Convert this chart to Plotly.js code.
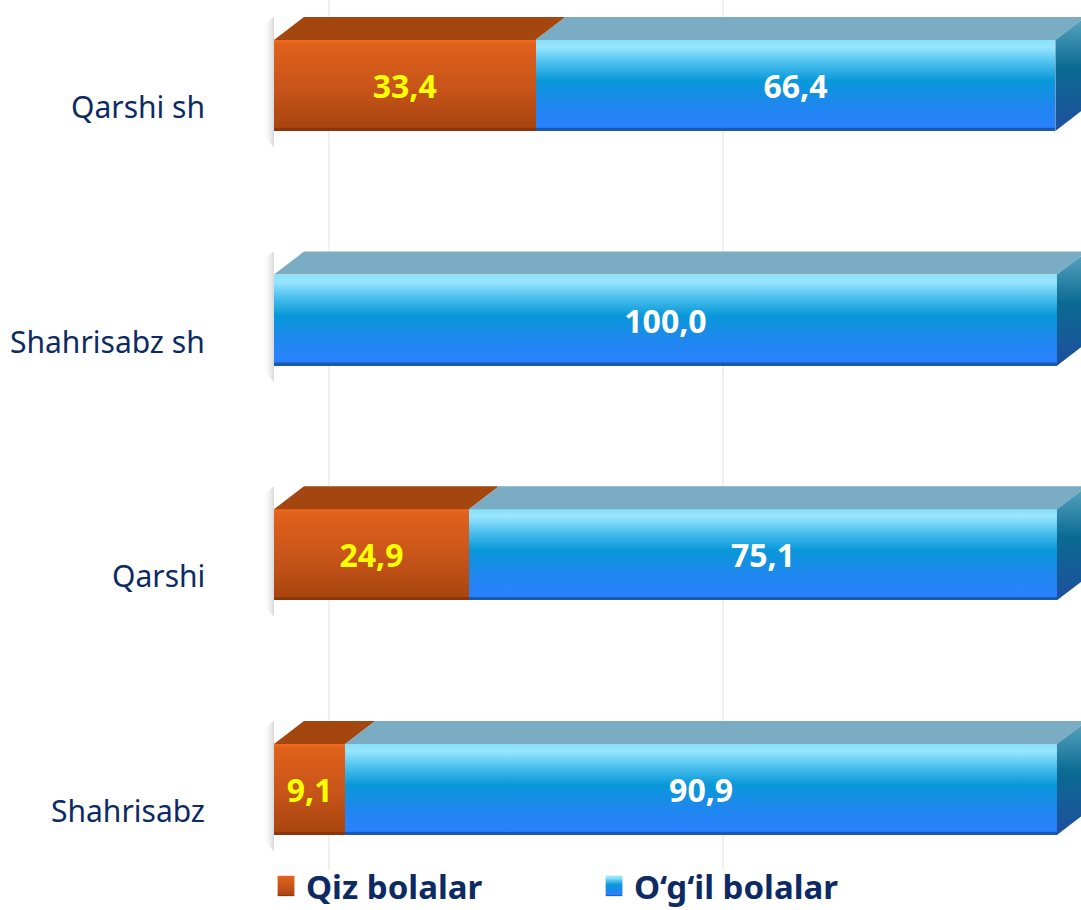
<!DOCTYPE html>
<html>
<head>
<meta charset="utf-8">
<script src="https://cdn.plot.ly/plotly-3.0.1.min.js"></script>
<style>html,body{margin:0;padding:0;background:#fff;}#chart{width:1081px;height:910px;}</style>
</head>
<body>
<div id="chart"></div>
<script>
// ---- data ----
const categories = ["Qarshi sh", "Shahrisabz sh", "Qarshi", "Shahrisabz"];
const seriesNames = ["Qiz bolalar", "O‘g‘il bolalar"];
const qizValues = [33.4, 0, 24.9, 9.1];
const ogilValues = [66.4, 100.0, 75.1, 90.9];

// ---- style ----
const navy = "#0c2a63";
const fontFam = "Noto Sans, Open Sans, DejaVu Sans, sans-serif";
const barW = 0.388;      // bar thickness (category units)
const depthX = 3.83;     // 3D depth in value units
const depthY = 0.098;    // 3D depth in category units

const yIdx = categories.map((c, i) => i);
const fmt = v => v > 0 ? v.toFixed(1).replace('.', ',') : '';

function topFaces(starts, ends) {
  const xs = [], ys = [];
  starts.forEach((s, i) => {
    const e = ends[i];
    if (e - s <= 0) return;
    const yf = yIdx[i] - barW / 2, yb = yf - depthY;
    xs.push(s, e, e + depthX, s + depthX, s, null);
    ys.push(yf, yf, yb, yb, yf, null);
  });
  return {xs, ys};
}
function sideFace(e, i) {
  const yt = yIdx[i] - barW / 2, ybt = yIdx[i] + barW / 2;
  return {xs: [e, e + depthX, e + depthX, e, e], ys: [yt, yt - depthY, ybt - depthY, ybt, yt]};
}
function shadow(i) {
  const yt = i - barW / 2 - depthY, yb = i + barW / 2 + 0.07;
  return {xs: [-1.5, 0, 0, -1.5, -1.5], ys: [yt + 0.04, yt, yb, yb - 0.06, yt + 0.04]};
}

const ogStart = qizValues.slice();
const ogEnd = qizValues.map((q, i) => q + ogilValues[i]);
const tQ = topFaces(qizValues.map(() => 0), qizValues);
const tO = topFaces(ogStart, ogEnd);

const noLine = {width: 0, color: 'rgba(0,0,0,0)'};
const traces = [
  {type: 'bar', orientation: 'h', name: seriesNames[0], y: yIdx, x: qizValues,
   width: barW, marker: {color: '#c9551a', line: {width: 0}},
   text: qizValues.map(fmt), textposition: 'inside', insidetextanchor: 'middle',
   constraintext: 'none', textangle: 0,
   textfont: {color: '#ffff00', size: 32, family: fontFam, weight: 'bold'},
   hoverinfo: 'skip'},
  {type: 'bar', orientation: 'h', name: seriesNames[1], y: yIdx, x: ogilValues,
   width: barW, marker: {color: '#1890e8', line: {width: 0}},
   text: ogilValues.map(fmt), textposition: 'inside', insidetextanchor: 'middle',
   constraintext: 'none', textangle: 0,
   textfont: {color: '#ffffff', size: 32, family: fontFam, weight: 'bold'},
   hoverinfo: 'skip'},
  {type: 'scatter', mode: 'lines', x: tQ.xs, y: tQ.ys, fill: 'toself', fillcolor: '#a3460f',
   line: noLine, showlegend: false, hoverinfo: 'skip'},
  {type: 'scatter', mode: 'lines', x: tO.xs, y: tO.ys, fill: 'toself', fillcolor: '#7aadc3',
   line: noLine, showlegend: false, hoverinfo: 'skip'}
];
ogEnd.forEach((e, i) => {
  const f = sideFace(e, i);
  traces.push({type: 'scatter', mode: 'lines', x: f.xs, y: f.ys, fill: 'toself', fillcolor: '#1e6a9c',
    line: noLine, showlegend: false, hoverinfo: 'skip', meta: 'side'});
});
yIdx.forEach(i => {
  const f = shadow(i);
  traces.push({type: 'scatter', mode: 'lines', x: f.xs, y: f.ys, fill: 'toself', fillcolor: 'rgba(160,160,160,0.4)',
    line: noLine, showlegend: false, hoverinfo: 'skip', meta: 'shadow'});
});

const layout = {
  width: 1081, height: 910,
  margin: {l: 262, r: 0, t: 0, b: 40, autoexpand: false},
  paper_bgcolor: '#ffffff', plot_bgcolor: '#ffffff',
  barmode: 'stack',
  showlegend: true,
  xaxis: {range: [-1.53, 103.07], showticklabels: false, ticks: '', zeroline: false,
          showgrid: true, gridcolor: '#f0f0f0', gridwidth: 2, tick0: 7.0, dtick: 50.3, showline: false},
  yaxis: {range: [3.343, -0.364], showticklabels: false, ticks: '', zeroline: false,
          showgrid: false, showline: false},
  legend: {orientation: 'h', x: 0.0049, xanchor: 'left', y: -0.0184, yanchor: 'middle',
           font: {size: 33, color: navy, family: fontFam, weight: 'bold'},
           entrywidth: 283, entrywidthmode: 'pixels', traceorder: 'normal',
           bgcolor: 'rgba(0,0,0,0)', borderwidth: 0},
  annotations: categories.map((c, i) => ({
    text: c, xref: 'paper', yref: 'y', x: -0.0672, y: yIdx[i], xanchor: 'right', yanchor: 'middle',
    yshift: -21, showarrow: false, font: {size: 30, color: navy, family: fontFam}
  }))
};

Plotly.newPlot('chart', traces, layout, {displayModeBar: false, staticPlot: true}).then(gd => {
  const svg = gd.querySelector('.main-svg');
  let defs = svg.querySelector('defs');
  if (!defs) { defs = document.createElementNS('http://www.w3.org/2000/svg', 'defs'); svg.insertBefore(defs, svg.firstChild); }
  function grad(id, stops, horiz) {
    const g = document.createElementNS('http://www.w3.org/2000/svg', 'linearGradient');
    g.setAttribute('id', id);
    g.setAttribute('x1', '0'); g.setAttribute('y1', '0');
    g.setAttribute('x2', horiz ? '1' : '0'); g.setAttribute('y2', horiz ? '0' : '1');
    stops.forEach(s => {
      const st = document.createElementNS('http://www.w3.org/2000/svg', 'stop');
      st.setAttribute('offset', s[0]); st.setAttribute('stop-color', s[1]);
      if (s[2] !== undefined) st.setAttribute('stop-opacity', s[2]);
      g.appendChild(st);
    });
    defs.appendChild(g);
  }
  grad('gOr', [[0, '#f06a1c'], [0.05, '#e0611a'], [0.5, '#c9551a'], [0.96, '#a9450f'], [0.97, '#8a360a'], [1, '#8a360a']]);
  grad('gBl', [[0, '#88e0fb'], [0.08, '#98e6ff'], [0.25, '#4cc0ee'], [0.45, '#0898d8'], [0.7, '#1e88ee'], [0.96, '#2a80ff'], [0.97, '#1d58b0'], [1, '#1d58b0']]);
  grad('gSide', [[0, '#5aa6c0'], [0.45, '#0b6a92'], [1, '#1e4f9e']]);
  grad('gShadow', [[0, '#ffffff', 0], [1, '#8a8a8a', 0.85]], true);
  gd.querySelectorAll('.barlayer .trace').forEach((t, k) => {
    t.querySelectorAll('.point path').forEach(p => { p.style.fill = k === 0 ? 'url(#gOr)' : 'url(#gBl)'; });
  });
  gd.querySelectorAll('.legend .traces').forEach((t, k) => {
    t.querySelectorAll('.legendpoints path').forEach(p => {
      p.style.fill = k === 0 ? 'url(#gOr)' : 'url(#gBl)';
      const tr = p.getAttribute('transform') || '';
      p.setAttribute('transform', tr + ' scale(1.4,1.7)');
    });
  });
  const sc = gd.querySelectorAll('.scatterlayer .trace');
  const data = gd.data.filter(d => d.type === 'scatter');
  sc.forEach((t, k) => {
    const m = data[k] && data[k].meta;
    if (m === 'side') t.querySelectorAll('.fills path').forEach(p => { p.style.fill = 'url(#gSide)'; });
    if (m === 'shadow') t.querySelectorAll('.fills path').forEach(p => { p.style.fill = 'url(#gShadow)'; });
  });
});
</script>
</body>
</html>
